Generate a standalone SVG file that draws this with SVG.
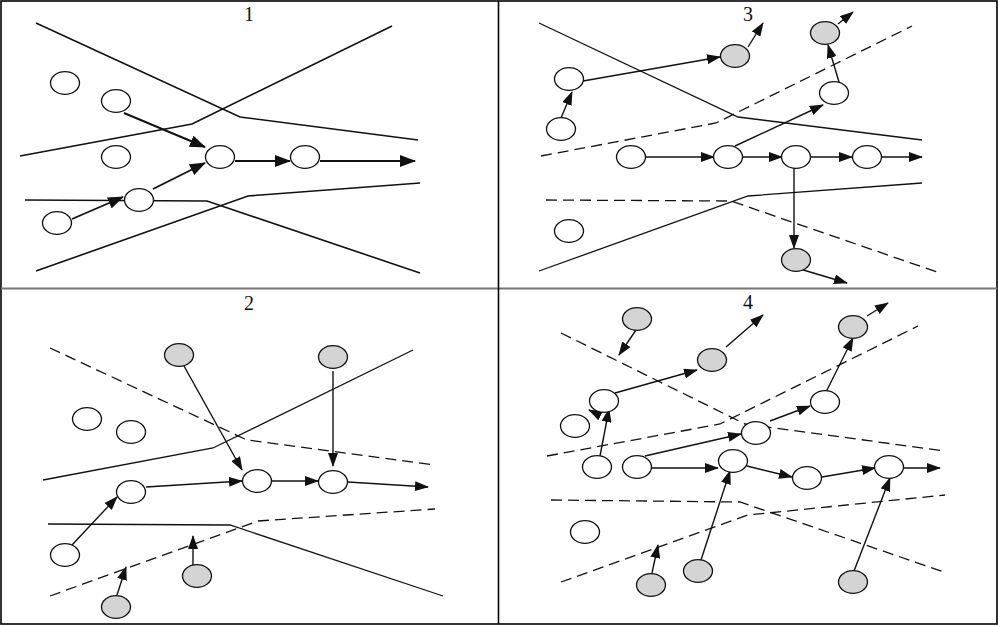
<svg xmlns="http://www.w3.org/2000/svg" width="998" height="626" viewBox="0 0 998 626">
<defs>
<marker id="ah" markerUnits="userSpaceOnUse" markerWidth="14" markerHeight="10" refX="13" refY="5" orient="auto">
<path d="M0,0 L14,5 L0,10 z" fill="#111"/>
</marker>
<marker id="ahb" markerUnits="userSpaceOnUse" markerWidth="16" markerHeight="12" refX="15" refY="6" orient="auto">
<path d="M0,0 L16,6 L0,12 z" fill="#111"/>
</marker>
<style>
.frame{fill:none;stroke:#000;stroke-width:1.6}
.b{fill:none;stroke:#111;stroke-width:1.3}
.b1{fill:none;stroke:#111;stroke-width:1.6}
.d{fill:none;stroke:#111;stroke-width:1.3;stroke-dasharray:11 6}
.n ellipse{fill:#fff;stroke:#111;stroke-width:1.3}
.g ellipse{fill:#d4d4d4;stroke:#111;stroke-width:1.3}
.c line{stroke:#111;stroke-width:1.4;marker-end:url(#ah)}
.c line.q1{stroke-width:1.9;marker-end:url(#ahb)}
.lbl{font-family:"Liberation Serif",serif;font-size:20px;fill:#111;text-anchor:middle}
</style>
</defs>
<rect width="998" height="626" fill="#fff"/>
<g id="frame">
<rect class="frame" x="1" y="1" width="996" height="623"/>
<line x1="1" y1="288.5" x2="997" y2="288.5" stroke="#777" stroke-width="2.2"/>
<line x1="498.5" y1="1" x2="498.5" y2="624" stroke="#000" stroke-width="1.6"/>
</g>
<g id="labels">
<text class="lbl" x="249" y="21">1</text>
<text class="lbl" x="748" y="21">3</text>
<text class="lbl" x="249" y="310">2</text>
<text class="lbl" x="748" y="309">4</text>
</g>
<g id="boundaries">
<polyline class="b1" points="36,23 240,117 418,140"/>
<polyline class="b1" points="20,156 192,124 392,26"/>
<polyline class="b1" points="25,200 207,201 420,273"/>
<polyline class="b1" points="36,271 248,196 420,183"/>
<polyline class="b" points="539,23 738,117 922,140"/>
<polyline class="d" points="541,156 716,123 912,26"/>
<polyline class="d" points="546,200 731,201 940,273"/>
<polyline class="b" points="539,271 748,196 922,183"/>
<polyline class="d" points="50,348 247,440 435,465"/>
<polyline class="b" points="43,480 213,448 413,350"/>
<polyline class="b" points="48,524 230,525 443,596"/>
<polyline class="d" points="50,596 258,521 435,509"/>
<polyline class="d" points="561,333 745,424 945,451"/>
<polyline class="d" points="547,456 720,424 918,326"/>
<polyline class="d" points="551,500 740,502 947,573"/>
<polyline class="d" points="561,582 748,515 945,495"/>
</g>
<g id="connectors" class="c">
<line class="q1" x1="124" y1="113" x2="205" y2="147"/>
<line class="q1" x1="72" y1="219" x2="123" y2="197"/>
<line class="q1" x1="153" y1="189" x2="205" y2="163"/>
<line class="q1" x1="235" y1="161" x2="290" y2="161"/>
<line class="q1" x1="320" y1="161" x2="415" y2="161"/>
<line x1="561" y1="118" x2="572" y2="92"/>
<line x1="583" y1="81" x2="720" y2="57"/>
<line x1="748" y1="47" x2="763" y2="23"/>
<line x1="645" y1="157" x2="714" y2="157"/>
<line x1="735" y1="146" x2="823" y2="105"/>
<line x1="839" y1="82" x2="828" y2="45"/>
<line x1="838" y1="24" x2="853" y2="12"/>
<line x1="742" y1="157" x2="782" y2="157"/>
<line x1="810" y1="157" x2="852" y2="157"/>
<line x1="882" y1="157" x2="922" y2="157"/>
<line x1="794" y1="168" x2="794" y2="248"/>
<line x1="800" y1="269" x2="847" y2="283"/>
<line x1="184" y1="366" x2="242" y2="470"/>
<line x1="333" y1="371" x2="333" y2="466"/>
<line x1="72" y1="545" x2="117" y2="497"/>
<line x1="146" y1="487" x2="242" y2="481"/>
<line x1="271" y1="481" x2="318" y2="481"/>
<line x1="348" y1="482" x2="428" y2="487"/>
<line x1="193" y1="565" x2="193" y2="536"/>
<line x1="117" y1="595" x2="126" y2="567"/>
<line x1="636" y1="330" x2="619" y2="355"/>
<line x1="726" y1="347" x2="763" y2="315"/>
<line x1="615" y1="393" x2="697" y2="370"/>
<line x1="600" y1="456" x2="609" y2="409"/>
<line x1="597" y1="414" x2="589" y2="410"/>
<line x1="645" y1="456" x2="741" y2="434"/>
<line x1="651" y1="468" x2="718" y2="468"/>
<line x1="701" y1="560" x2="730" y2="471"/>
<line x1="652" y1="573" x2="658" y2="545"/>
<line x1="747" y1="466" x2="792" y2="477"/>
<line x1="822" y1="477" x2="875" y2="468"/>
<line x1="904" y1="468" x2="940" y2="468"/>
<line x1="770" y1="421" x2="810" y2="406"/>
<line x1="825" y1="394" x2="853" y2="338"/>
<line x1="867" y1="316" x2="888" y2="303"/>
<line x1="854" y1="571" x2="890" y2="478"/>
</g>
<g id="q1-nodes">
<g id="n1a" class="n"><ellipse cx="65" cy="83" rx="14.5" ry="11.3"/></g>
<g id="n1b" class="n"><ellipse cx="116" cy="101" rx="14.5" ry="11.3"/></g>
<g id="n1c" class="n"><ellipse cx="116" cy="157" rx="14.5" ry="11.3"/></g>
<g id="n1d" class="n"><ellipse cx="220" cy="157" rx="14.5" ry="11.3"/></g>
<g id="n1e" class="n"><ellipse cx="139" cy="200" rx="14.5" ry="11.3"/></g>
<g id="n1f" class="n"><ellipse cx="57" cy="223" rx="14.5" ry="11.3"/></g>
<g id="n1g" class="n"><ellipse cx="305" cy="157" rx="14.5" ry="11.3"/></g>
</g>
<g id="q3-nodes">
<g id="n3a" class="n"><ellipse cx="569" cy="79" rx="14.5" ry="11.3"/></g>
<g id="n3b" class="n"><ellipse cx="561" cy="129" rx="14.5" ry="11.3"/></g>
<g id="n3c" class="n"><ellipse cx="631" cy="157" rx="14.5" ry="11.3"/></g>
<g id="n3d" class="n"><ellipse cx="728" cy="157" rx="14.5" ry="11.3"/></g>
<g id="n3e" class="n"><ellipse cx="569" cy="231" rx="14.5" ry="11.3"/></g>
<g id="n3f" class="g"><ellipse cx="735" cy="56" rx="14.5" ry="11.3"/></g>
<g id="n3g" class="g"><ellipse cx="825" cy="33" rx="14.5" ry="11.3"/></g>
<g id="n3h" class="n"><ellipse cx="834" cy="93" rx="14.5" ry="11.3"/></g>
<g id="n3i" class="n"><ellipse cx="796" cy="157" rx="14.5" ry="11.3"/></g>
<g id="n3j" class="n"><ellipse cx="867" cy="157" rx="14.5" ry="11.3"/></g>
<g id="n3k" class="g"><ellipse cx="796" cy="260" rx="14.5" ry="11.3"/></g>
</g>
<g id="q2-nodes">
<g id="n2a" class="g"><ellipse cx="179" cy="355" rx="14.5" ry="11.3"/></g>
<g id="n2b" class="n"><ellipse cx="87" cy="419" rx="14.5" ry="11.3"/></g>
<g id="n2c" class="n"><ellipse cx="131" cy="432" rx="14.5" ry="11.3"/></g>
<g id="n2d" class="n"><ellipse cx="131" cy="492" rx="14.5" ry="11.3"/></g>
<g id="n2e" class="n"><ellipse cx="65" cy="555" rx="14.5" ry="11.3"/></g>
<g id="n2f" class="g"><ellipse cx="197" cy="576" rx="14.5" ry="11.3"/></g>
<g id="n2g" class="g"><ellipse cx="116" cy="607" rx="14.5" ry="11.3"/></g>
<g id="n2h" class="n"><ellipse cx="257" cy="481" rx="14.5" ry="11.3"/></g>
<g id="n2i" class="n"><ellipse cx="333" cy="482" rx="14.5" ry="11.3"/></g>
<g id="n2j" class="g"><ellipse cx="333" cy="357" rx="14.5" ry="11.3"/></g>
</g>
<g id="q4-nodes">
<g id="n4a" class="g"><ellipse cx="637" cy="319" rx="14.5" ry="11.3"/></g>
<g id="n4b" class="g"><ellipse cx="712" cy="360" rx="14.5" ry="11.3"/></g>
<g id="n4c" class="n"><ellipse cx="604" cy="401" rx="14.5" ry="11.3"/></g>
<g id="n4d" class="n"><ellipse cx="575" cy="426" rx="14.5" ry="11.3"/></g>
<g id="n4e" class="n"><ellipse cx="597" cy="467" rx="14.5" ry="11.3"/></g>
<g id="n4f" class="n"><ellipse cx="637" cy="467" rx="14.5" ry="11.3"/></g>
<g id="n4g" class="n"><ellipse cx="733" cy="461" rx="14.5" ry="11.3"/></g>
<g id="n4h" class="n"><ellipse cx="756" cy="433" rx="14.5" ry="11.3"/></g>
<g id="n4i" class="n"><ellipse cx="585" cy="532" rx="14.5" ry="11.3"/></g>
<g id="n4j" class="g"><ellipse cx="698" cy="571" rx="14.5" ry="11.3"/></g>
<g id="n4k" class="g"><ellipse cx="651" cy="585" rx="14.5" ry="11.3"/></g>
<g id="n4l" class="g"><ellipse cx="853" cy="327" rx="14.5" ry="11.3"/></g>
<g id="n4m" class="n"><ellipse cx="825" cy="402" rx="14.5" ry="11.3"/></g>
<g id="n4n" class="n"><ellipse cx="807" cy="478" rx="14.5" ry="11.3"/></g>
<g id="n4o" class="n"><ellipse cx="889" cy="467" rx="14.5" ry="11.3"/></g>
<g id="n4p" class="g"><ellipse cx="853" cy="582" rx="14.5" ry="11.3"/></g>
</g>
</svg>
